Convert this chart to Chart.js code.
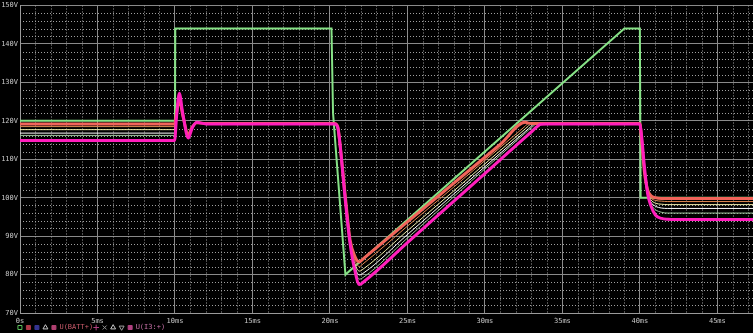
<!DOCTYPE html>
<html>
<head>
<meta charset="utf-8">
<script src="https://cdn.jsdelivr.net/npm/chart.js@4.4.1/dist/chart.umd.min.js"></script>
<style>
  html, body { margin: 0; padding: 0; background: #000; }
  #wrap { width: 753px; height: 333px; position: relative; }
</style>
</head>
<body>
<div id="wrap"><canvas id="scope"></canvas></div>
<script>
// time axis (ms) and values (V)
const xTicks = [0, 5, 10, 15, 20, 25, 30, 35, 40, 45]
const yTicks = [70, 80, 90, 100, 110, 120, 130, 140, 150]

const tBatt = [0, 10, 10.02, 20.1, 20.2, 21.0, 39.0, 40.0, 40.05, 47.3]
const uBatt = [120, 120, 144, 144, 122, 80, 144, 144, 100, 100]

const tOut = [0, 9.98, 10.1, 10.28, 10.5, 10.86, 11.1, 11.4, 12, 20.3, 20.5, 20.7, 20.9, 21.1, 21.3, 21.6, 21.9, 22.2, 25, 28, 31, 32.6, 32.8, 33.0, 33.2, 33.4, 33.6, 34, 40.0, 40.1, 40.3, 40.5, 40.7, 41.0, 41.4, 41.8, 43, 47.3]
const uRed    = [119.2, 119.2, 122, 125.5, 121.5, 116.5, 118.3, 119.5, 119.3, 119.3, 118.5, 112, 104, 96, 89, 84.8, 83.3, 84.3, 93.7, 103.8, 113.9, 119.6, 119.4, 119.3, 119.3, 119.3, 119.3, 119.3, 119.3, 115.5, 106.5, 102, 100.6, 100.0, 99.8, 99.8, 99.8, 99.8]
const uOrange = [118.5, 118.5, 121.8, 126, 121.7, 116.2, 118.2, 119.5, 119.3, 119.3, 118.4, 112, 103.8, 95.7, 88.6, 83.8, 82.1, 83.0, 92.6, 102.8, 113.1, 118.6, 119.3, 119.3, 119.3, 119.3, 119.3, 119.3, 119.3, 115.8, 107, 101.8, 100, 99.3, 99.1, 99.0, 99.0, 99.0]
const uYellow = [117.7, 117.7, 121.5, 126.4, 121.8, 116, 118.1, 119.5, 119.3, 119.3, 118.4, 112, 103.6, 95.5, 88.4, 82.9, 80.9, 81.6, 91.4, 101.8, 112.3, 117.9, 118.6, 119.3, 119.3, 119.3, 119.3, 119.3, 119.3, 116, 107.2, 101.5, 99.5, 98.6, 98.3, 98.2, 98.2, 98.2]
const uWhite  = [116.8, 116.8, 121.3, 126.7, 121.9, 115.8, 118.1, 119.5, 119.3, 119.3, 118.4, 112, 103.4, 95.3, 88.2, 82.2, 79.9, 80.5, 90.4, 101.0, 111.6, 117.2, 117.9, 118.6, 119.3, 119.3, 119.3, 119.3, 119.3, 116.2, 107.4, 101.2, 98.9, 97.8, 97.3, 97.2, 97.2, 97.2]
const uGray   = [116.2, 116.2, 121.2, 126.9, 121.9, 115.7, 118.0, 119.6, 119.2, 119.3, 118.3, 112, 103.2, 95.1, 88.0, 81.6, 78.8, 79.4, 89.5, 100.3, 111.1, 116.8, 117.5, 118.2, 118.9, 119.3, 119.3, 119.3, 119.3, 116.3, 107.6, 101, 98.4, 96.9, 96.2, 96.0, 96.0, 96.0]
const uMagenta = [114.9, 114.9, 121, 127.2, 122, 115.5, 118, 119.6, 119.2, 119.2, 118.3, 112, 103, 95, 88, 81.2, 77.4, 78.2, 88.3, 99.1, 109.9, 115.7, 116.4, 117.1, 117.9, 118.6, 119.1, 119.2, 119.2, 116.5, 107.8, 101, 98, 95.5, 94.6, 94.4, 94.3, 94.3]

const monoFont = { family: "DejaVu Sans Mono", size: 7, lineHeight: 1 }

function pts(ts, vs) {
    return ts.map((t, i) => ({ x: t, y: vs[i] }))
}

function outLine(label, vs, color, width) {
    return {
        label: label,
        data: pts(tOut, vs),
        borderColor: color,
        borderWidth: width,
        pointRadius: 0,
        cubicInterpolationMode: "monotone",
        fill: false,
    }
}

// legend symbols like the simulator's trace markers
const legendItems = [
    { text: "  ", fillStyle: "transparent", strokeStyle: "transparent", pointStyle: "rect", lineWidth: 0 },
    { text: "", fillStyle: "transparent", strokeStyle: "#5cc05c", pointStyle: "rect", lineWidth: 1 },
    { text: "", fillStyle: "#b03848", strokeStyle: "#b03848", pointStyle: "rect", lineWidth: 1 },
    { text: "", fillStyle: "#343490", strokeStyle: "#343490", pointStyle: "rect", lineWidth: 1 },
    { text: "", fillStyle: "transparent", strokeStyle: "#c8c8c8", pointStyle: "triangle", lineWidth: 1 },
    { text: "U(BATT+)", fillStyle: "#b04070", strokeStyle: "#b04070", pointStyle: "rect", lineWidth: 1, fontColor: "#c85a6a" },
    { text: "", fillStyle: "transparent", strokeStyle: "#b04080", pointStyle: "cross", lineWidth: 1 },
    { text: "", fillStyle: "transparent", strokeStyle: "#909090", pointStyle: "crossRot", lineWidth: 1 },
    { text: "", fillStyle: "transparent", strokeStyle: "#c8c8c8", pointStyle: "triangle", lineWidth: 1 },
    { text: "", fillStyle: "transparent", strokeStyle: "#a0a0a0", pointStyle: "triangle", rotation: 180, lineWidth: 1 },
    { text: "U(I3:+)", fillStyle: "#b04080", strokeStyle: "#b04080", pointStyle: "rect", lineWidth: 1, fontColor: "#c870a8" },
]

// dotted minor grid: 1ms and 2V
const minorGrid = {
    id: "minorGrid",
    beforeDatasetsDraw(chart) {
        const { ctx, chartArea, scales } = chart
        ctx.save()
        ctx.strokeStyle = "#a0a0a0"
        ctx.lineWidth = 1
        ctx.setLineDash([1, 2])
        for (let t = 1; t < 48; t++) {
            if (t % 5 === 0) continue
            const px = Math.round(scales.x.getPixelForValue(t)) + 0.5
            if (px > chartArea.right) break
            ctx.beginPath()
            ctx.moveTo(px, chartArea.top)
            ctx.lineTo(px, chartArea.bottom)
            ctx.stroke()
        }
        for (let v = 72; v < 150; v += 2) {
            if (v % 10 === 0) continue
            const py = Math.round(scales.y.getPixelForValue(v)) + 0.5
            ctx.beginPath()
            ctx.moveTo(chartArea.left, py)
            ctx.lineTo(chartArea.right, py)
            ctx.stroke()
        }
        ctx.restore()
    }
}

const ctx = document.getElementById("scope").getContext("2d")
new Chart(ctx, {
    type: "line",
    data: {
        datasets: [
            outLine("U(I3:+) 6", uMagenta, "#ff1ebc", 3),
            outLine("U(I3:+) 1", uRed, "#f2645a", 3),
            outLine("U(I3:+) 2", uOrange, "#e08850", 1),
            outLine("U(I3:+) 3", uYellow, "#f0eca8", 1),
            outLine("U(I3:+) 4", uWhite, "#ffffff", 1),
            outLine("U(I3:+) 5", uGray, "#9cc49c", 1),
            {
                label: "U(BATT+)",
                data: pts(tBatt, uBatt),
                borderColor: "#86e286",
                borderWidth: 2,
                pointRadius: 0,
                tension: 0,
                fill: false,
            },
        ],
    },
    options: {
        responsive: true,
        maintainAspectRatio: false,
        animation: false,
        layout: { padding: 0 },
        plugins: {
            tooltip: { enabled: false },
            legend: {
                position: "bottom",
                align: "start",
                maxHeight: 10,
                onClick: null,
                labels: {
                    usePointStyle: true,
                    boxWidth: 4,
                    boxHeight: 4,
                    padding: 1,
                    font: monoFont,
                    color: "#c0c0c0",
                    generateLabels: () => legendItems.map((it) => Object.assign({ hidden: false }, it)),
                },
            },
        },
        scales: {
            x: {
                type: "linear",
                min: 0,
                max: 47.3,
                afterBuildTicks: (axis) => { axis.ticks = xTicks.map((v) => ({ value: v })) },
                afterFit: (axis) => { axis.height = 10 },
                grid: { color: "#8a8a8a", lineWidth: 1, drawTicks: false },
                border: { color: "#9a9a9a" },
                ticks: {
                    color: "#c8c8c8",
                    font: monoFont,
                    padding: 5,
                    maxRotation: 0,
                    autoSkip: false,
                    callback: (v) => (v === 0 ? "0s" : v + "ms"),
                },
            },
            y: {
                min: 70,
                max: 150,
                afterBuildTicks: (axis) => { axis.ticks = yTicks.map((v) => ({ value: v })) },
                afterFit: (axis) => { axis.width = 20 },
                grid: { color: "#8a8a8a", lineWidth: 1, drawTicks: false },
                border: { color: "#9a9a9a" },
                ticks: {
                    color: "#c8c8c8",
                    font: monoFont,
                    padding: 2,
                    callback: (v) => v + "V",
                },
            },
        },
    },
    plugins: [minorGrid],
})
</script>
</body>
</html>
